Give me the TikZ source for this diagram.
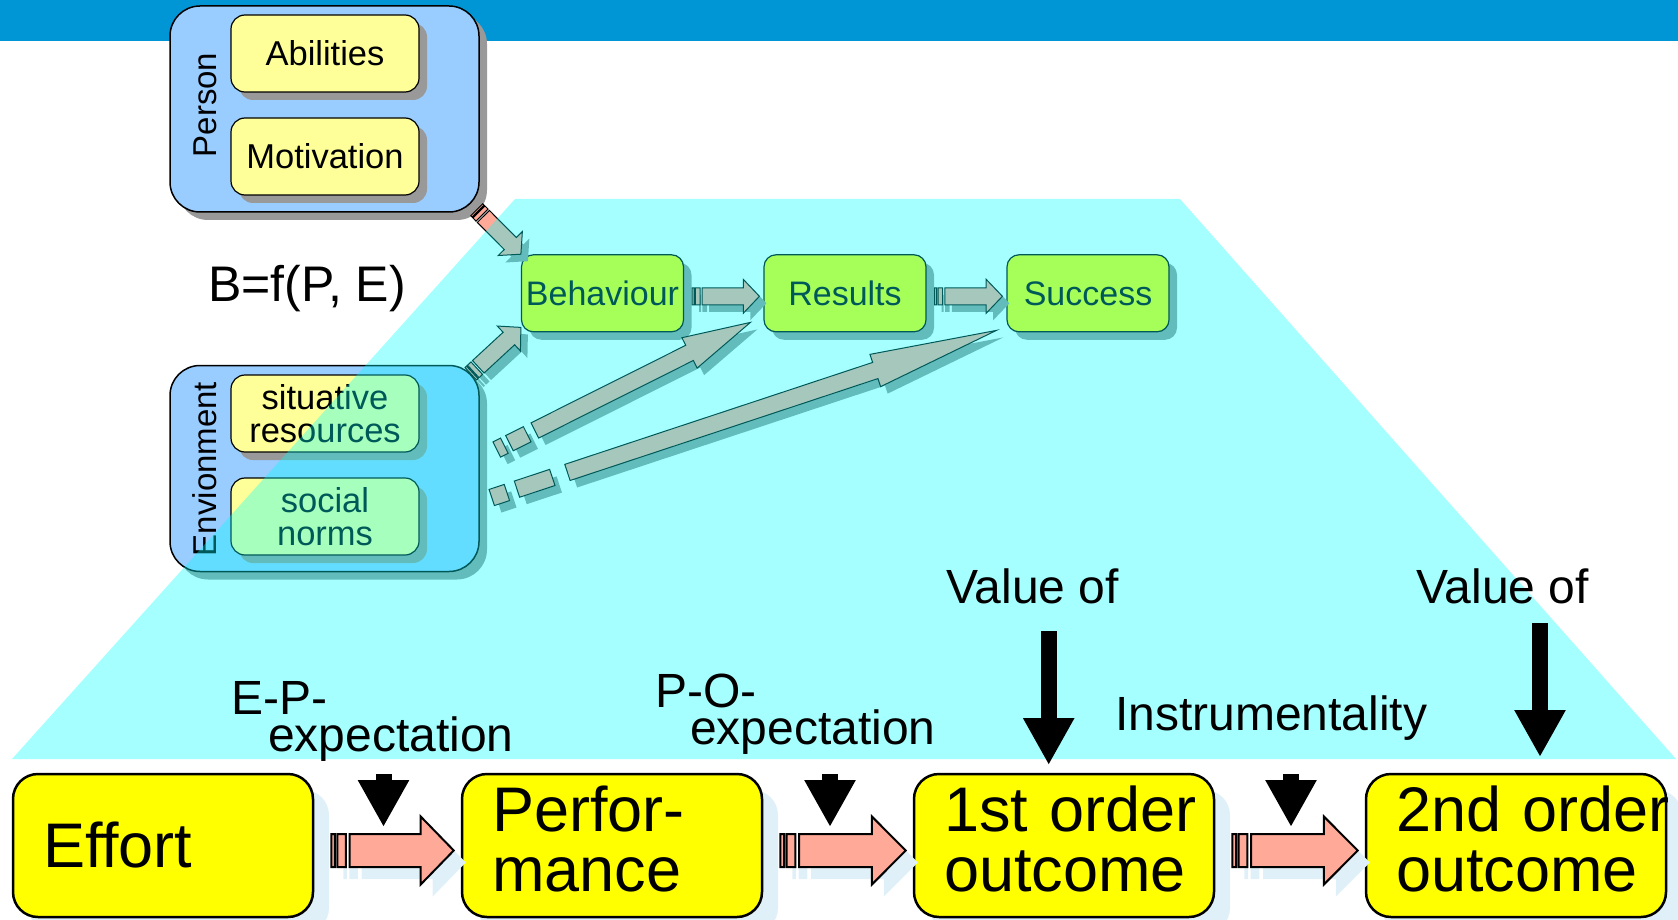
\documentclass[tikz,border=0pt]{standalone}
\usepackage{fontspec}
\setmainfont{Liberation Sans}
\usetikzlibrary{
  arrows.meta,
  calc,
  shadows
}
\definecolor{vmBar}{HTML}{0096D6}
\definecolor{vmSky}{HTML}{99CCFF}
\definecolor{vmPale}{HTML}{FFFF99}
\definecolor{vmYellow}{HTML}{FFFF00}
\definecolor{vmPink}{HTML}{FFAA99}
\definecolor{vmShade}{HTML}{999999}
\definecolor{vmGlow}{HTML}{E0F0F8}
\definecolor{vmCyan}{HTML}{00FFFF}
\newcommand\vmsize[2]{\fontsize{#1pt}{#2pt}\selectfont}
\newcommand\vmat[3]{($(\tikztostart)!#1!(\tikztotarget)!#2!#3:(\tikztotarget)$)}
\tikzset{
  boxshadow/.style={drop shadow={shadow xshift=8pt, shadow yshift=-8pt, fill=vmShade, opacity=1}},
  holder/.style={
    draw, fill=vmSky, rounded corners=30pt, line width=1.5pt,
    minimum width=309pt, minimum height=206pt, boxshadow
  },
  grouptag/.style={rotate=90, font=\vmsize{33}{33}, inner sep=0pt},
  factor/.style={
    draw, fill=vmPale, rounded corners=14pt, line width=1.2pt, align=center,
    minimum width=188pt, minimum height=77pt, font=\vmsize{34.5}{33}, inner sep=0pt, boxshadow
  },
  stage/.style={
    draw, fill=vmYellow, rounded corners=12pt, line width=1.2pt,
    minimum width=162pt, minimum height=77pt, font=\vmsize{34}{34}, inner sep=0pt, boxshadow
  },
  outcome/.style={
    draw, fill=vmYellow, rounded corners=25pt, line width=2.5pt, align=left,
    minimum width=300pt, minimum height=143pt, text width=240pt,
    inner xsep=30pt, inner ysep=0pt, font=\vmsize{63}{60},
    drop shadow={shadow xshift=16pt, shadow yshift=-16pt, fill=vmGlow, opacity=1}
  },
  tag/.style={font=\vmsize{48}{37}, align=left, inner sep=0pt},
  striped/.style n args={3}{to path={
    \vmat{0}{#1}{90} -- \vmat{0.03}{#1}{90} -- \vmat{0.03}{#1}{-90} -- \vmat{0}{#1}{-90} -- cycle
    \vmat{0.05}{#1}{90} -- \vmat{0.12}{#1}{90} -- \vmat{0.12}{#1}{-90} -- \vmat{0.05}{#1}{-90} -- cycle
    \vmat{0.15}{#1}{90} -- \vmat{#3}{#1}{90} -- \vmat{#3}{#2}{90} -- (\tikztotarget)
      -- \vmat{#3}{#2}{-90} -- \vmat{#3}{#1}{-90} -- \vmat{0.15}{#1}{-90} -- cycle}},
  flowup/.style={
    striped={8.5pt}{17pt}{0.76}, draw=black, line width=1pt, fill=vmPink,
    preaction={fill=vmShade, transform canvas={shift={(7pt,-7pt)}}}
  },
  flowdown/.style={
    striped={16.5pt}{34pt}{0.73}, draw=black, line width=2pt, fill=vmPink,
    preaction={fill=vmGlow, transform canvas={shift={(12pt,-12pt)}}}
  },
  valuearrow/.style={-{Triangle[width=48pt,length=47pt]}, line width=16pt}
}
\begin{document}
\begin{tikzpicture}[x=1pt, y=-1pt]
  \useasboundingbox (0,0) rectangle (1678,920);
  \fill[vmBar] (0,0) rectangle (1678,41);

  % person and environment
  \node[holder] (person) at (324.5,109) {};
  \node[grouptag] (persontag) at (205,105) {Person};
  \node[factor] (abil) at (325,53.5) {Abilities};
  \node[factor] (motiv) at (325,156.5) {Motivation};

  \node[holder] (env) at (324.5,468.5) {};
  \node[grouptag] (envtag) at (205,469) {Envionment};
  \node[factor] (sitres) at (325,413.5) {situative\\resources};
  \node[factor] (norms) at (325,516.5) {social\\norms};

  \node[font=\vmsize{50}{50}, anchor=base west, inner sep=0pt] (bfunc) at (208,301) {B=f(P, E)};

  % behaviour chain
  \node[stage] (beh) at (602.5,293.3) {Behaviour};
  \node[stage] (res) at (845,293.3) {Results};
  \node[stage] (suc) at (1088,293.3) {Success};

  \foreach \a/\b in {beh/res, res/suc}{
    \draw[flowup] ([shift={(8,3)}]\a.east) to ([shift={(-4,3)}]\b.west);
  }
  \draw[flowup] ([shift={(-3,-3)}]person.south east) to (beh.north west);
  \draw[flowup] ([shift={(-9,9)}]env.north east) to ([shift={(0,-5)}]beh.south west);
  \draw[flowup] ([shift={(17,-19)}]env.east) to ([shift={(-13,-10)}]res.south west);
  \draw[flowup] ([shift={(12,29)}]env.east) to ([shift={(-10,-2)}]suc.south west);

  \fill[vmCyan, opacity=0.35] (515,199) -- (1180,199) -- (1676,759) -- (12,759) -- cycle;

  % expectancy chain
  \node[outcome] (effort) at (163,845.5) {Effort};
  \node[outcome, text depth=74pt] (perf) at (612,845.5) {Perfor-\\mance};
  \node[outcome, text depth=74pt] (first) at (1064,845.5) {\mbox{1st order}\\outcome};
  \node[outcome, text depth=74pt] (second) at (1516,845.5) {\mbox{2nd order}\\outcome};

  \foreach \a/\b in {effort/perf, perf/first, first/second}{
    \draw[flowdown] ([shift={(17,5)}]\a.east) to ([shift={(-7,5)}]\b.west);
  }

  \node[tag, anchor=north west] (eptag) at (231,681) {E-P-\\\hspace*{37pt}expectation};
  \node[tag, anchor=north west] (potag) at (655,674) {P-O-\\\hspace*{35pt}expectation};
  \node[tag, anchor=base west] (valone) at (946,603) {Value of};
  \node[tag, anchor=base west] (valtwo) at (1416,603) {Value of};
  \node[tag, anchor=base west] (instr) at (1115,730) {Instrumentality};

  \foreach \xx/\nm in {383.5/ep, 830/po, 1291/in}{
    \coordinate (\nm-top) at (\xx,774);
    \coordinate (\nm-tip) at (\xx,827);
    \draw[valuearrow] (\nm-top) -- (\nm-tip);
  }
  \foreach \xx/\yy/\nm in {1048.7/631/vone, 1540/623/vtwo}{
    \coordinate (\nm-top) at (\xx,\yy);
    \coordinate (\nm-tip) at (\xx,\yy+134);
    \draw[valuearrow] (\nm-top) -- (\nm-tip);
  }
\end{tikzpicture}
\end{document}
